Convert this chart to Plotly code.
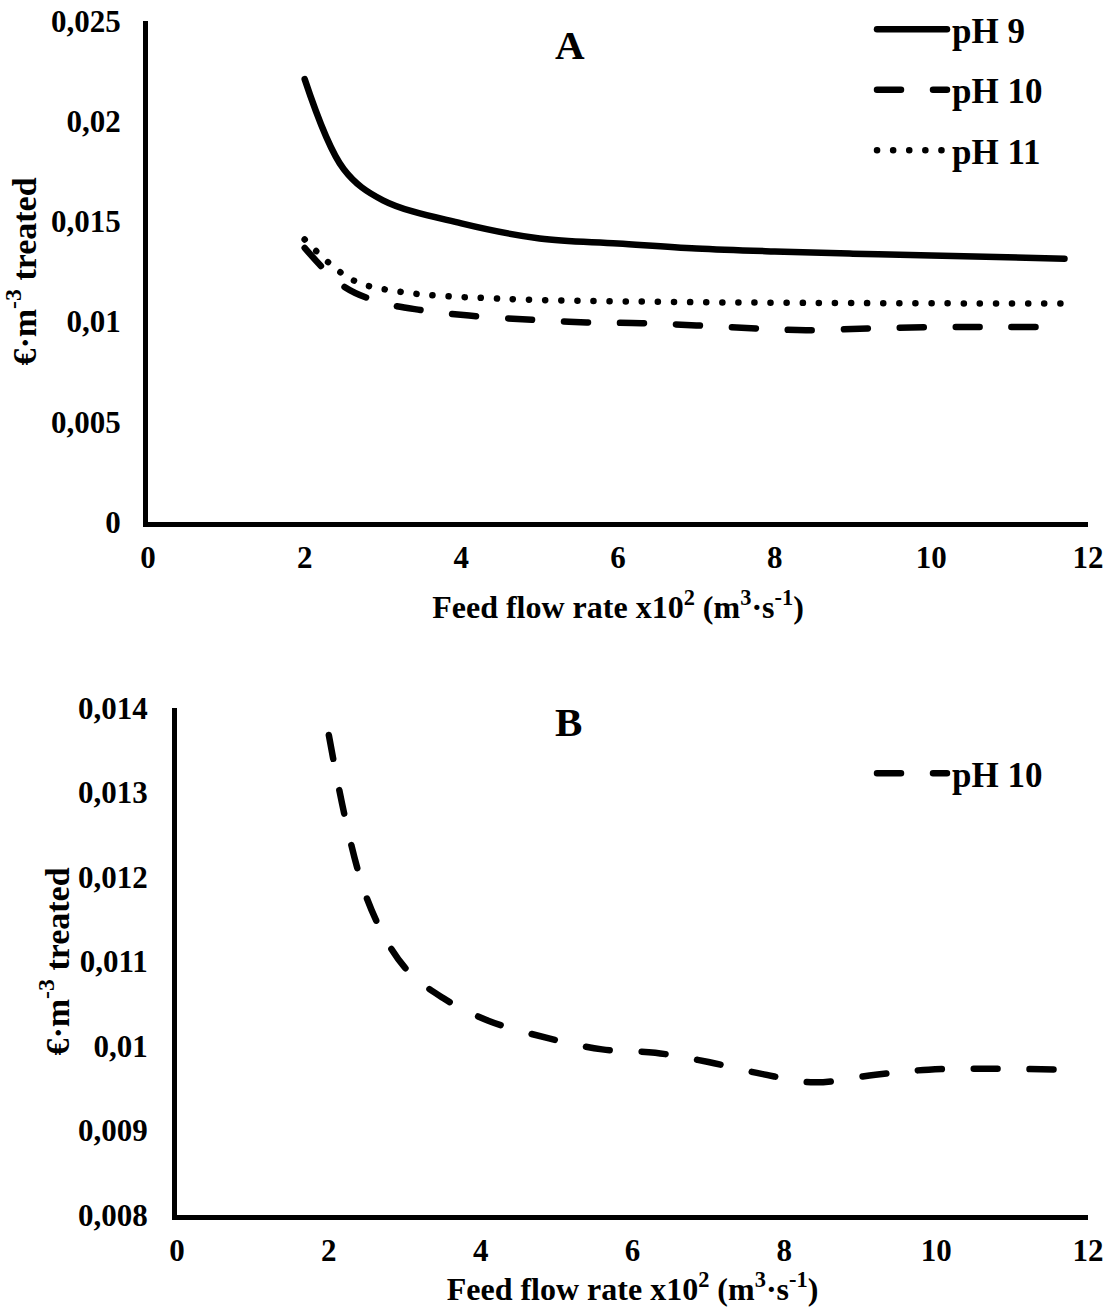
import plotly.graph_objects as go

# Operating cost vs. feed flow rate (x10^2 m3/s) for three pH values
flow_ph9 = [2.0, 2.5, 3.0, 4.0, 5.0, 6.0, 7.0, 8.0, 9.0, 10.0, 11.7]
cost_ph9 = [0.0221, 0.0176, 0.01605, 0.0149, 0.01415, 0.0139, 0.01365, 0.0135, 0.01339, 0.0133, 0.01314]

flow_ph10 = [2.0, 2.5, 3.0, 3.5, 4.1, 4.9, 5.6, 6.3, 7.0, 7.7, 8.4, 9.2, 9.9, 10.7, 11.7]
cost_ph10 = [0.01368, 0.01175, 0.01093, 0.01057, 0.0103, 0.01009, 0.00996,
             0.00992, 0.00981, 0.00967, 0.00957, 0.00966, 0.00972, 0.00973, 0.00972]

flow_ph11 = [2.0, 2.6, 3.2, 4.45, 6.75, 11.7]
cost_ph11 = [0.0141, 0.0121, 0.0115, 0.01115, 0.01098, 0.0109]

x_ticks = [0, 2, 4, 6, 8, 10, 12]
x_ticktext = ["0", "2", "4", "6", "8", "10", "12"]
ya_ticks = [0, 0.005, 0.01, 0.015, 0.02, 0.025]
ya_ticktext = ["0", "0,005", "0,01", "0,015", "0,02", "0,025"]
yb_ticks = [0.008, 0.009, 0.010, 0.011, 0.012, 0.013, 0.014]
yb_ticktext = ["0,008", "0,009", "0,01", "0,011", "0,012", "0,013", "0,014"]

W, H = 1103, 1307
FONT = "Liberation Serif"
LW = 6.5
DOT = "0.1px,16px"
DASH = "24px,32px"

fig = go.Figure()
fig.add_trace(go.Scatter(x=flow_ph9, y=cost_ph9, name="pH 9", mode="lines",
                         line=dict(color="black", width=LW, shape="spline"),
                         xaxis="x", yaxis="y", legend="legend", legendgroup="g0"))
fig.add_trace(go.Scatter(x=flow_ph10, y=cost_ph10, name="pH 10", mode="lines",
                         line=dict(color="black", width=LW, dash=DASH, shape="spline"),
                         xaxis="x", yaxis="y", legend="legend", legendgroup="g1"))
fig.add_trace(go.Scatter(x=flow_ph11, y=cost_ph11, name="pH 11", mode="lines",
                         line=dict(color="black", width=LW, dash=DOT, shape="spline"),
                         xaxis="x", yaxis="y", legend="legend", legendgroup="g2"))
fig.add_trace(go.Scatter(x=flow_ph10, y=cost_ph10, name="pH 10", mode="lines",
                         line=dict(color="black", width=LW, dash=DASH, shape="spline"),
                         xaxis="x2", yaxis="y2", legend="legend2"))

tickfont = dict(family=FONT, size=31, color="black", weight="bold")
xtitlefont = dict(family=FONT, size=32, color="black", weight="bold")
ytitlefont = dict(family=FONT, size=34, color="black", weight="bold")
legfont = dict(family=FONT, size=35, color="black", weight="bold")
panelfont = dict(family=FONT, size=41, color="black", weight="bold")

common_x = dict(range=[0, 12], tickvals=x_ticks, ticktext=x_ticktext, showgrid=False,
                zeroline=False, showline=True, linecolor="black", linewidth=5,
                ticks="", tickfont=tickfont, ticklabelstandoff=4,
                ticklabeloverflow="allow", automargin=False)
common_y = dict(showgrid=False, zeroline=False, showline=True, linecolor="black",
                linewidth=5, ticks="", tickfont=tickfont, automargin=False)

x_title = "Feed flow rate x10<sup>2</sup> (m<sup>3</sup>·s<sup>-1</sup>)"
y_title = "€·m<sup>-3</sup> treated"

fig.update_layout(
    template="none",
    width=W, height=H,
    margin=dict(l=0, r=0, t=0, b=0, autoexpand=False),
    paper_bgcolor="white", plot_bgcolor="white",
    xaxis=dict(domain=[148 / W, 1088 / W], anchor="y",
               title=dict(text=x_title, font=xtitlefont, standoff=23), **common_x),
    yaxis=dict(domain=[1 - 522 / H, 1 - 21 / H], anchor="x", range=[0, 0.025],
               tickvals=ya_ticks, ticktext=ya_ticktext, ticklabelstandoff=16,
               title=dict(text=y_title, font=ytitlefont, standoff=6), **common_y),
    xaxis2=dict(domain=[177 / W, 1088 / W], anchor="y2",
                title=dict(text=x_title, font=xtitlefont, standoff=2), **common_x),
    yaxis2=dict(domain=[1 - 1215 / H, 1 - 708 / H], anchor="x2", range=[0.008, 0.014],
                tickvals=yb_ticks, ticktext=yb_ticktext, ticklabelstandoff=18,
                title=dict(text=y_title, font=ytitlefont, standoff=0), **common_y),
    legend=dict(x=872 / W, y=1 - 0 / H, xanchor="left", yanchor="top",
                font=legfont, itemwidth=70, tracegroupgap=12,
                bgcolor="rgba(0,0,0,0)", borderwidth=0),
    legend2=dict(x=872 / W, y=1 - 744 / H, xanchor="left", yanchor="top",
                 font=legfont, itemwidth=70, bgcolor="rgba(0,0,0,0)", borderwidth=0),
    annotations=[
        dict(text="A", x=570 / W, y=1 - 45 / H, xref="paper", yref="paper",
             xanchor="center", yanchor="middle", showarrow=False, font=panelfont),
        dict(text="B", x=568 / W, y=1 - 722 / H, xref="paper", yref="paper",
             xanchor="center", yanchor="middle", showarrow=False, font=panelfont),
    ],
    showlegend=True,
)

round_caps = """
var gd = document.getElementById('{plot_id}');
function roundCaps() {
  gd.querySelectorAll('path.js-line').forEach(function (p) {
    p.style.strokeLinecap = 'round';
    p.style.strokeLinejoin = 'round';
  });
}
roundCaps();
gd.on('plotly_afterplot', roundCaps);
"""

fig.write_html("out.html", post_script=round_caps)
